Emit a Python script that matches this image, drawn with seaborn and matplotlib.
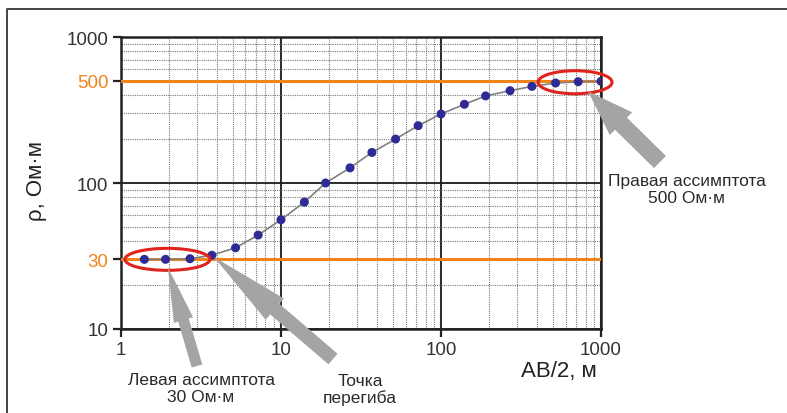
import matplotlib
matplotlib.use("Agg")
import matplotlib.pyplot as plt
import matplotlib.transforms as mtransforms
from matplotlib.patches import Ellipse
from matplotlib.lines import Line2D
from matplotlib.ticker import LogLocator, FixedLocator, NullFormatter
import pandas as pd
import seaborn as sns

# half-spacing AB/2 (m) and apparent resistivity (Ohm*m)
ab2 = [1.4, 1.9, 2.7, 3.7, 5.2, 7.2, 10, 14, 19, 27, 37, 52, 72, 100,
       140, 190, 270, 370, 520, 720, 1000]
rho = [30, 30, 30.3, 32, 36, 44, 56, 74, 100, 127, 162, 200, 247, 297,
       346, 395, 429, 459, 484, 494, 497]

rho_left = 30    # left asymptote
rho_right = 500  # right asymptote

x_ticks = [1, 10, 100, 1000]
y_ticks = [10, 30, 100, 500, 1000]
y_tick_colors = ["#333333", "#f0841a", "#333333", "#f0841a", "#333333"]

df = pd.DataFrame({"ab2": ab2, "rho": rho})

sns.set_theme(style="white")
plt.rcParams["font.family"] = ["Liberation Sans", "DejaVu Sans"]

fig = plt.figure(figsize=(7.87, 4.14), dpi=100)
ax = fig.add_axes([0.1537, 0.2029, 0.61, 0.7053])
ax.set_xscale("log")
ax.set_yscale("log")
ax.set_xlim(1, 1000)
ax.set_ylim(10, 1000)

# grid: dotted minor, solid black major
ax.xaxis.set_minor_locator(LogLocator(base=10, subs=range(2, 10)))
ax.yaxis.set_minor_locator(LogLocator(base=10, subs=range(2, 10)))
ax.xaxis.set_minor_formatter(NullFormatter())
ax.yaxis.set_minor_formatter(NullFormatter())
ax.grid(which="minor", color="#7a7a7a", linestyle=(0, (1, 1)), linewidth=0.8)
ax.grid(which="major", color="#1a1a1a", linestyle="-", linewidth=1.3)
ax.tick_params(which="minor", length=0)

# asymptotes
ax.axhline(rho_left, color="#f0841a", linewidth=2.2, zorder=3)
ax.axhline(rho_right, color="#f0841a", linewidth=2.2, zorder=3)

# curve and points
sns.lineplot(data=df, x="ab2", y="rho", ax=ax, color="#808080",
             linewidth=1.2, zorder=4)
sns.scatterplot(data=df, x="ab2", y="rho", ax=ax, color="#2f2b96",
                s=42, edgecolor="none", zorder=5)

ax.xaxis.set_major_locator(FixedLocator(x_ticks))
ax.yaxis.set_major_locator(FixedLocator(y_ticks))
ax.set_xticklabels([str(v) for v in x_ticks])
ax.set_yticklabels([str(v) for v in y_ticks])
ax.tick_params(which="major", direction="out", length=6, width=1.6,
               color="#222222", labelsize=13.5, labelcolor="#333333", pad=3,
               bottom=True, left=True)
for lab, tick, c in zip(ax.get_yticklabels(), ax.yaxis.get_major_ticks(), y_tick_colors):
    lab.set_color(c)
    tick.tick1line.set_color(c)
for sp in ax.spines.values():
    sp.set_color("#222222")
    sp.set_linewidth(1.8)

ax.set_xlabel("AB/2, м", fontsize=16, color="#222222")
ax.xaxis.set_label_coords(0.9125, -0.105)
ax.set_ylabel("ρ, Ом·м", fontsize=16, color="#222222")
ax.yaxis.set_label_coords(-0.155, 0.51)

# red ellipses around the asymptotic parts (size in inches)
for cx, cy, w, h in [(1.95, rho_left, 0.85, 0.22), (688, 490, 0.74, 0.23)]:
    tr = fig.dpi_scale_trans + mtransforms.ScaledTranslation(cx, cy, ax.transData)
    ax.add_patch(Ellipse((0, 0), w, h, transform=tr, fill=False,
                         edgecolor="#e0231d", linewidth=2.2, zorder=6,
                         clip_on=False))

# grey pointer arrows
arrows = [
    ((ab2[1], rho[1]), (197, 47), 6, "simple,head_length=5.5,head_width=2.0,tail_width=1.1"),
    ((ab2[3], rho[3]), (333, 54), 2, "simple,head_length=8.0,head_width=2.8,tail_width=1.4"),
    ((ab2[19], rho[19]), (660, 251), 10, "simple,head_length=4.6,head_width=3.2,tail_width=1.7"),
]
for tip, tail, shr, style in arrows:
    ax.annotate("", xy=tip, xycoords="data", xytext=tail,
                textcoords="figure pixels",
                arrowprops=dict(arrowstyle=style, mutation_scale=7.2,
                                facecolor="#a4a4a4", edgecolor="none",
                                shrinkA=0, shrinkB=shr),
                annotation_clip=False, zorder=7)

txt = dict(fontsize=12.5, color="#2a2a2a", ha="center", va="center",
           linespacing=1.1)
fig.text(201 / 787, 1 - 389 / 414, "Левая ассимптота\n30 Ом·м", **txt)
fig.text(360 / 787, 1 - 390 / 414, "Точка\nперегиба", **txt)
fig.text(687 / 787, 1 - 190 / 414, "Правая ассимптота\n500 Ом·м", **txt)

# outer frame (left and top edges)
fig.add_artist(Line2D([7 / 787, 7 / 787, 1], [0, 1 - 10 / 414, 1 - 10 / 414],
                      transform=fig.transFigure, color="#444444", linewidth=1.4))

fig.savefig("out.png", dpi=100, facecolor="white")
